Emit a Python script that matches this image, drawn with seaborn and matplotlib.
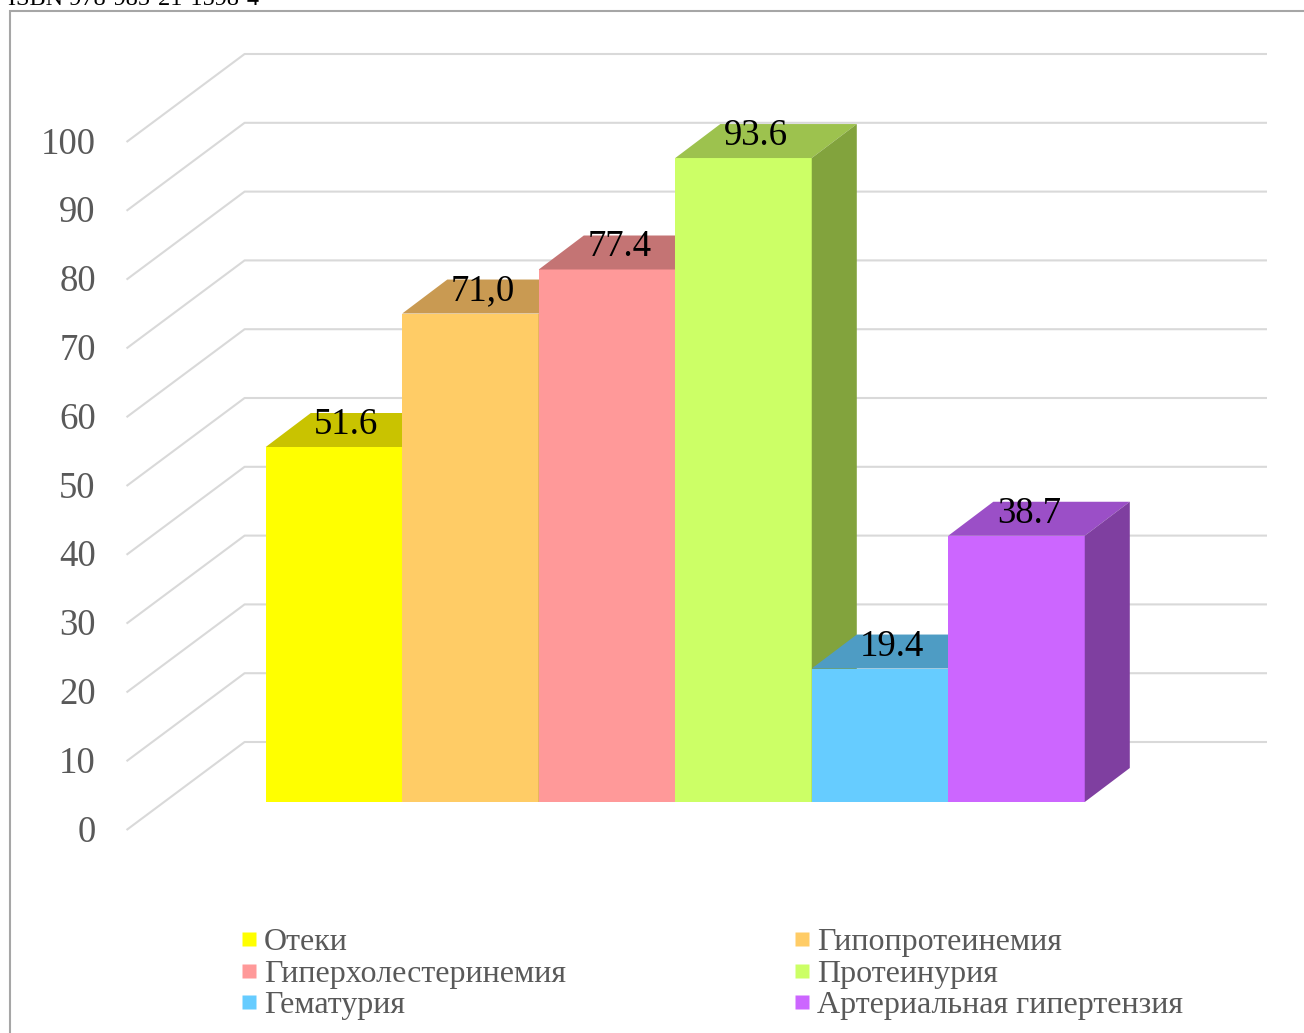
import matplotlib
matplotlib.use("Agg")
import matplotlib.pyplot as plt
from matplotlib.patches import Polygon, Rectangle
from matplotlib.lines import Line2D
import seaborn as sns
import pandas as pd

# ---- data ----
categories = ["Отеки", "Гипопротеинемия", "Гиперхолестеринемия",
              "Протеинурия", "Гематурия", "Артериальная гипертензия"]
values = [51.6, 71.0, 77.4, 93.6, 19.4, 38.7]
value_labels = ["51.6", "71,0", "77.4", "93.6", "19.4", "38.7"]
y_ticks = [0, 10, 20, 30, 40, 50, 60, 70, 80, 90, 100]
header_text = "ISBN 978-985-21-1598-4"

# ---- styles ----
front_colors = ["#FFFF00", "#FFCC66", "#FF9999", "#CCFF66", "#66CCFF", "#CC66FF"]
top_colors = ["#C9C300", "#C99A52", "#C47474", "#9DC24E", "#4E9CC4", "#9B4FC7"]
side_colors = ["#A0A000", "#A07A40", "#A05C5C", "#82A33D", "#3F7FA0", "#7F3FA0"]
GRID_C = "#D9D9D9"
TEXT_C = "#595959"
SERIF = ["Liberation Serif", "DejaVu Serif"]

# geometry of the oblique 3D projection (data units)
BAR_DX, BAR_DY = 0.33, 4.94          # bar depth offset
BACK_DX, BACK_DY = 0.59, 8.72        # back wall relative to bar front plane
FRONT_DX, FRONT_DY = -0.275, -4.07   # front edge relative to bar front plane
FLOOR_PAD = 0.745                    # floor extends beyond outer bars

sns.set_theme(style="white")
plt.rcParams["font.family"] = SERIF

W, H = 1304, 1033
fig = plt.figure(figsize=(W / 100, H / 100), dpi=100)
ax = fig.add_axes([0, 0, 1, 1])

df = pd.DataFrame({"cat": categories, "val": values})
sns.barplot(data=df, x="cat", y="val", hue="cat", order=categories,
            hue_order=categories, palette=front_colors, saturation=1,
            width=1.0, legend=False, ax=ax, edgecolor="none", linewidth=0)
ax.set_xlim(-334 / 136.5, (W - 334) / 136.5)
ax.set_ylim((802 - H) / 6.88, 802 / 6.88)
ax.axis("off")

# gridlines (left wall + back wall)
n = len(categories)
xl = -0.5 - FLOOR_PAD
xr = n - 0.5 + FLOOR_PAD
for v in y_ticks:
    ax.plot([xl + FRONT_DX, xl + BACK_DX, xr + BACK_DX],
            [v + FRONT_DY, v + BACK_DY, v + BACK_DY],
            color=GRID_C, lw=1.5, zorder=0.5, solid_capstyle="butt")
    ax.text(xl + FRONT_DX - 0.225, v + FRONT_DY - 0.35, str(v), ha="right",
            va="center", fontsize=26.5, color=TEXT_C, family=SERIF)

bars = sorted(ax.patches, key=lambda p: p.get_x())
for i, p in enumerate(bars):
    x0, w, h = p.get_x(), p.get_width(), p.get_height()
    base = 2 + 3 * i
    p.set_zorder(base)
    top = Polygon([(x0, h), (x0 + w, h), (x0 + w + BAR_DX, h + BAR_DY),
                   (x0 + BAR_DX, h + BAR_DY)], closed=True,
                  facecolor=top_colors[i], edgecolor="none", zorder=base + 1)
    side = Polygon([(x0 + w, 0), (x0 + w + BAR_DX, BAR_DY),
                    (x0 + w + BAR_DX, h + BAR_DY), (x0 + w, h)], closed=True,
                   facecolor=side_colors[i], edgecolor="none", zorder=base + 2)
    ax.add_patch(top)
    ax.add_patch(side)
    ax.text(x0 + w / 2 + 0.09, h + BAR_DY + 0.8, value_labels[i],
            ha="center", va="top", fontsize=26.5, color="black",
            family=SERIF, zorder=50)

# legend (row-major order as in the original)
handles = [Line2D([], [], marker="s", linestyle="none", markersize=10.5,
                  markerfacecolor=c, markeredgecolor="none")
           for c in front_colors]
order = [0, 2, 4, 1, 3, 5]
leg = fig.legend([handles[k] for k in order], [categories[k] for k in order],
                 ncol=2, loc="upper left",
                 bbox_to_anchor=(241 / W, 1 - 928 / H),
                 frameon=False, fontsize=23, borderpad=0, borderaxespad=0,
                 handlelength=0.5, handletextpad=0.22, columnspacing=7.13,
                 labelspacing=0.065)
for t in leg.get_texts():
    t.set_color(TEXT_C)
    t.set_family(SERIF)

# chart frame and clipped header text
fig.add_artist(Rectangle((9.5 / W, -0.2), 1.2, 1.2 - 10.5 / H,
                         transform=fig.transFigure, fill=False,
                         edgecolor="#A6A6A6", lw=1.5))
fig.text(8 / W, 1 - 5 / H, header_text, ha="left", va="baseline",
         fontsize=17.5, color="black", family=SERIF)

fig.savefig("out.png", dpi=100)
